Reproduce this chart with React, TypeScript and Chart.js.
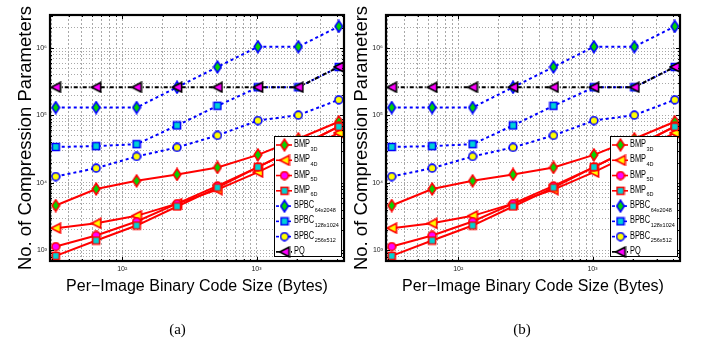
import React, { useEffect, useRef } from 'react';
import { Chart, registerables } from 'chart.js';

Chart.register(...registerables);

// ---------------- data ----------------
const codeSizes = [32, 64, 128, 256, 512, 1024, 2048, 4096];

const bmp3d = [4600, 8100, 10700, 13300, 16900, 26000, 45000, 80500];
const bmp4d = [2120, 2500, 3230, 4900, 7900, 14400, 28000, 55000];
const bmp5d = [1130, 1650, 2660, 4900, 9000, 17100, 34000, 69000];
const bmp6d = [822, 1390, 2320, 4450, 8500, 17100, 34000, 68000];
const bpbc64x2048 = [131072, 131072, 131072, 262144, 524288, 1048576, 1048576, 2097152];
const bpbc128x1024 = [34000, 35000, 37500, 71000, 139000, 262144, 262144, 524288];
const bpbc256x512 = [12400, 16500, 24600, 33500, 50500, 84000, 101000, 171000];
const pq = [262144, 262144, 262144, 262144, 262144, 262144, 262144, 524288];

const legendNames = ['BMP', 'BMP', 'BMP', 'BMP', 'BPBC', 'BPBC', 'BPBC', 'PQ'];
const legendSubs = ['3D', '4D', '5D', '6D', '64x2048', '128x1024', '256x512', ''];

const xTickValues = [30, 40, 50, 60, 70, 80, 90, 100, 200, 300, 400, 500, 600, 700, 800, 900, 1000, 2000, 3000, 4000];
const yTickValues = [
  700, 800, 900,
  1000, 2000, 3000, 4000, 5000, 6000, 7000, 8000, 9000,
  10000, 20000, 30000, 40000, 50000, 60000, 70000, 80000, 90000,
  100000, 200000, 300000, 400000, 500000, 600000, 700000, 800000, 900000,
  1000000, 2000000, 3000000,
];

const xLabel = 'Per\u2212Image Binary Code Size (Bytes)';
const yLabel = 'No. of Compression Parameters';

// ---------------- helpers ----------------
const SUP: Record<string, string> = {
  '0': '\u2070', '1': '\u00b9', '2': '\u00b2', '3': '\u00b3', '4': '\u2074',
  '5': '\u2075', '6': '\u2076', '7': '\u2077', '8': '\u2078', '9': '\u2079',
};
const isPow10 = (v: number) => Math.abs(Math.log10(v) - Math.round(Math.log10(v))) < 1e-9;
const powLabel = (v: number) => {
  if (!isPow10(v)) return '';
  const e = String(Math.round(Math.log10(v)));
  return '10' + e.split('').map((c) => SUP[c]).join('');
};

type Shape = 'diamond' | 'triLeft' | 'circle' | 'square';

function makeMarker(shape: Shape, fill: string, stroke: string): HTMLCanvasElement {
  const c = document.createElement('canvas');
  const lw = 1.6;
  let w = 10, h = 10;
  if (shape === 'diamond') { w = 10; h = 14; }
  if (shape === 'triLeft') { w = 12; h = 12; }
  c.width = w; c.height = h;
  const ctx = c.getContext('2d')!;
  ctx.lineWidth = lw;
  ctx.fillStyle = fill;
  ctx.strokeStyle = stroke;
  ctx.beginPath();
  if (shape === 'diamond') {
    ctx.moveTo(5, 1.2); ctx.lineTo(8.8, 7); ctx.lineTo(5, 12.8); ctx.lineTo(1.2, 7); ctx.closePath();
  } else if (shape === 'triLeft') {
    ctx.moveTo(1.2, 6); ctx.lineTo(10.6, 1.2); ctx.lineTo(10.6, 10.8); ctx.closePath();
  } else if (shape === 'circle') {
    ctx.arc(5, 5, 3.9, 0, Math.PI * 2);
  } else {
    ctx.rect(1.5, 1.5, 7, 7);
  }
  ctx.fill();
  ctx.stroke();
  return c;
}

const framePlugin = {
  id: 'matFrame',
  afterDatasetsDraw(chart: any) {
    const { ctx, chartArea: a, scales } = chart;
    const x = scales.x, y = scales.y;
    ctx.save();
    ctx.strokeStyle = '#000';
    ctx.lineWidth = 1;
    ctx.setLineDash([]);
    ctx.beginPath();
    x.ticks.forEach((t: any) => {
      const px = Math.round(x.getPixelForValue(t.value)) + 0.5;
      const len = isPow10(t.value) ? 4 : 2;
      ctx.moveTo(px, a.bottom); ctx.lineTo(px, a.bottom - len);
      ctx.moveTo(px, a.top); ctx.lineTo(px, a.top + len);
    });
    y.ticks.forEach((t: any) => {
      const py = Math.round(y.getPixelForValue(t.value)) + 0.5;
      const len = isPow10(t.value) ? 4 : 2;
      ctx.moveTo(a.left, py); ctx.lineTo(a.left + len, py);
      ctx.moveTo(a.right, py); ctx.lineTo(a.right - len, py);
    });
    ctx.stroke();
    ctx.lineWidth = 2.2;
    ctx.strokeRect(a.left, a.top, a.right - a.left, a.bottom - a.top);
    ctx.restore();
  },
};

const legendPlugin = {
  id: 'subLegend',
  afterDatasetsDraw(chart: any) {
    const { ctx, chartArea: a } = chart;
    const w = 68, h = 121;
    const x0 = Math.round(a.right - 2 - w);
    const y0 = Math.round(a.bottom - 4 - h);
    ctx.save();
    ctx.fillStyle = '#fff';
    ctx.fillRect(x0, y0, w, h);
    ctx.strokeStyle = '#000';
    ctx.lineWidth = 1;
    ctx.setLineDash([]);
    ctx.strokeRect(x0 + 0.5, y0 + 0.5, w - 1, h - 1);
    chart.data.datasets.forEach((ds: any, i: number) => {
      const cy = y0 + 9 + i * 15.27;
      ctx.save();
      ctx.strokeStyle = ds.borderColor;
      ctx.lineWidth = 1.6;
      ctx.setLineDash(ds.borderDash || []);
      ctx.beginPath();
      ctx.moveTo(x0 + 2, cy);
      ctx.lineTo(x0 + 18, cy);
      ctx.stroke();
      ctx.restore();
      const img = ds.pointStyle as HTMLCanvasElement;
      ctx.drawImage(img, x0 + 10.5 - img.width / 2, cy - img.height / 2);
      // main text (condensed)
      ctx.fillStyle = '#000';
      ctx.textBaseline = 'alphabetic';
      ctx.textAlign = 'left';
      const tx = x0 + 20;
      ctx.save();
      ctx.translate(tx, cy + 2);
      ctx.scale(0.74, 1);
      ctx.font = '10px "Liberation Sans", Arial, sans-serif';
      ctx.fillText(legendNames[i], 0, 0);
      const mw = ctx.measureText(legendNames[i]).width * 0.74;
      ctx.restore();
      if (legendSubs[i]) {
        ctx.save();
        ctx.translate(tx + mw + 0.5, cy + 5.5);
        ctx.scale(0.92, 1);
        ctx.font = '6px "Liberation Sans", Arial, sans-serif';
        ctx.fillText(legendSubs[i], 0, 0);
        ctx.restore();
      }
    });
    ctx.restore();
  },
};

function buildConfig(): any {
  const RED = '#ff0000';
  const BLUE = '#0000ff';
  const GREEN = '#00d800';
  const YELLOW = '#ffff00';
  const MAGENTA = '#ff00ff';
  const CYAN = '#00d4d4';

  const series = [
    { label: 'BMP_3D', values: bmp3d, color: RED, dash: [], marker: makeMarker('diamond', GREEN, RED) },
    { label: 'BMP_4D', values: bmp4d, color: RED, dash: [], marker: makeMarker('triLeft', YELLOW, RED) },
    { label: 'BMP_5D', values: bmp5d, color: RED, dash: [], marker: makeMarker('circle', MAGENTA, RED) },
    { label: 'BMP_6D', values: bmp6d, color: RED, dash: [], marker: makeMarker('square', CYAN, RED) },
    { label: 'BPBC_64x2048', values: bpbc64x2048, color: BLUE, dash: [3, 3], marker: makeMarker('diamond', GREEN, BLUE) },
    { label: 'BPBC_128x1024', values: bpbc128x1024, color: BLUE, dash: [3, 3], marker: makeMarker('square', CYAN, BLUE) },
    { label: 'BPBC_256x512', values: bpbc256x512, color: BLUE, dash: [3, 3], marker: makeMarker('circle', YELLOW, BLUE) },
    { label: 'PQ', values: pq, color: '#000000', dash: [4, 2, 1, 2], marker: makeMarker('triLeft', MAGENTA, '#000000') },
  ];

  const datasets = series.map((s, i) => ({
    label: s.label,
    data: codeSizes.map((x, j) => ({ x, y: s.values[j] })),
    borderColor: s.color,
    backgroundColor: s.color,
    borderWidth: 2,
    borderDash: s.dash,
    pointStyle: s.marker,
    pointRadius: 5,
    fill: false,
    tension: 0,
    order: series.length - i,
  }));

  const tickFont = { family: '"Liberation Sans", Arial, sans-serif', size: 7 };

  return {
    type: 'line',
    data: { datasets },
    plugins: [framePlugin, legendPlugin],
    options: {
      animation: false,
      responsive: false,
      maintainAspectRatio: false,
      devicePixelRatio: 1,
      layout: { padding: { top: 15, right: 5, left: 0, bottom: 0 } },
      plugins: { legend: { display: false }, tooltip: { enabled: false }, title: { display: false } },
      scales: {
        x: {
          type: 'logarithmic',
          min: 29,
          max: 4480,
          afterBuildTicks: (scale: any) => {
            scale.ticks = xTickValues.map((v) => ({ value: v }));
          },
          afterFit: (scale: any) => { scale.height = 83; },
          ticks: {
            autoSkip: false,
            maxRotation: 0,
            minRotation: 0,
            padding: 4,
            color: '#222',
            font: tickFont,
            callback: (v: any) => powLabel(Number(v)),
          },
          grid: { color: '#a8a8a8', lineWidth: 1, drawTicks: false },
          border: { display: false, dash: [2, 2] },
          title: {
            display: true,
            text: xLabel,
            color: '#000',
            font: { family: '"Liberation Sans", Arial, sans-serif', size: 16 },
            padding: { top: 0, bottom: 47.4 },
          },
        },
        y: {
          type: 'logarithmic',
          min: 690,
          max: 3100000,
          afterBuildTicks: (scale: any) => {
            scale.ticks = yTickValues.map((v) => ({ value: v }));
          },
          afterFit: (scale: any) => { scale.width = 50; },
          ticks: {
            autoSkip: false,
            padding: 3,
            color: '#222',
            font: tickFont,
            callback: (v: any) => powLabel(Number(v)),
          },
          grid: { color: '#a8a8a8', lineWidth: 1, drawTicks: false },
          border: { display: false, dash: [1, 2] },
          title: {
            display: true,
            text: yLabel,
            color: '#000',
            font: { family: '"Liberation Sans", Arial, sans-serif', size: 18.5 },
            padding: { top: 14.4, bottom: 0 },
          },
        },
      },
    },
  };
}

function Panel({ left, caption, captionX }: { left: number; caption: string; captionX: number }) {
  const ref = useRef<HTMLCanvasElement>(null);
  useEffect(() => {
    const chart = new Chart(ref.current as HTMLCanvasElement, buildConfig());
    return () => chart.destroy();
  }, []);
  return (
    <>
      <canvas
        ref={ref}
        width={351}
        height={344}
        style={{ position: 'absolute', left, top: 0, width: 351, height: 344 }}
      />
      <div
        style={{
          position: 'absolute',
          left: captionX - 30,
          width: 60,
          top: 322.4,
          textAlign: 'center',
          fontFamily: '"Liberation Serif", "Times New Roman", serif',
          fontSize: 15,
          lineHeight: '15px',
          color: '#000',
        }}
      >
        {caption}
      </div>
    </>
  );
}

export default function App() {
  return (
    <div
      style={{
        position: 'fixed',
        left: 0,
        top: 0,
        width: 702,
        height: 344,
        background: '#fff',
        overflow: 'hidden',
      }}
    >
      <Panel left={0} caption="(a)" captionX={177.5} />
      <Panel left={336} caption="(b)" captionX={522} />
    </div>
  );
}
